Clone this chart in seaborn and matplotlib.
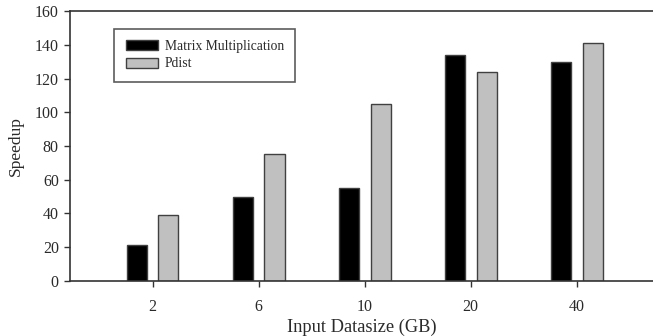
import pandas as pd
import matplotlib
matplotlib.use("Agg")
import matplotlib.pyplot as plt
import seaborn as sns

DATASIZES = ["2", "6", "10", "20", "40"]
MATRIX_MULT = [21, 50, 55, 134, 130]
PDIST = [39, 75, 105, 124, 141]
SERIES = ["Matrix Multiplication", "Pdist"]
COLORS = ["#000000", "#c0c0c0"]

df = pd.DataFrame({
    "size": DATASIZES * 2,
    "speedup": MATRIX_MULT + PDIST,
    "series": [SERIES[0]] * len(DATASIZES) + [SERIES[1]] * len(DATASIZES),
})

sns.set_style("ticks")
plt.rcParams["font.family"] = ["Liberation Serif", "DejaVu Serif"]
plt.rcParams["text.color"] = "#2a2a2a"
plt.rcParams["axes.labelcolor"] = "#2a2a2a"

fig = plt.figure(figsize=(6.53, 3.36), dpi=100)
ax = fig.add_axes([0.107, 0.164, 0.893, 0.803])

sns.barplot(
    data=df, x="size", y="speedup", hue="series", order=DATASIZES,
    hue_order=SERIES, palette=COLORS, width=0.6, gap=0.37,
    edgecolor="#404040", linewidth=1.0, ax=ax,
)

ax.set_xlim(-0.78, 4.72)
ax.set_ylim(0, 160)
ax.set_yticks(range(0, 161, 20))
ax.set_xlabel("Input Datasize (GB)", fontsize=13.2, labelpad=3)
ax.set_ylabel("Speedup", fontsize=12.5, labelpad=8)
ax.tick_params(labelsize=11.5, direction="out", length=4, width=1,
               color="#333333", labelcolor="#2a2a2a")
ax.tick_params(axis="x", pad=9)
ax.tick_params(axis="y", pad=4)

for side in ["left", "bottom", "top"]:
    ax.spines[side].set_color("#333333")
    ax.spines[side].set_linewidth(1.2)
ax.spines["right"].set_visible(False)

leg = ax.legend(
    loc="upper left", bbox_to_anchor=(0.076, 0.935), fontsize=9.8,
    frameon=True, fancybox=False, edgecolor="#333333",
    handlelength=2.35, handleheight=0.75, handletextpad=0.5,
    borderpad=0.85, labelspacing=0.3, borderaxespad=0,
)
leg.get_frame().set_linewidth(1.2)

plt.savefig("out.png", dpi=100)
